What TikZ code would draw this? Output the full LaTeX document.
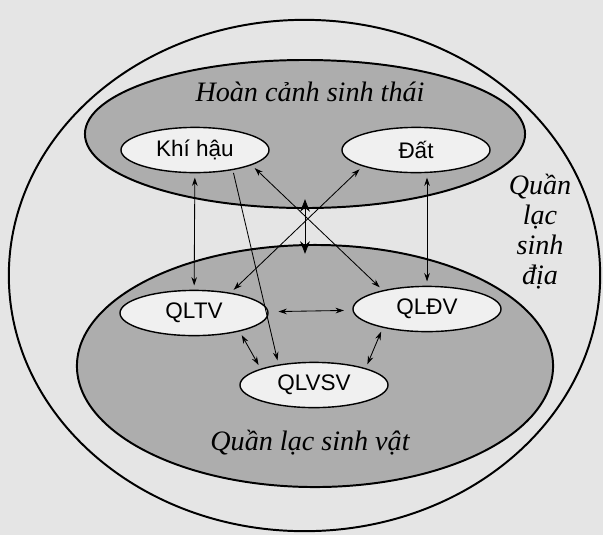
\documentclass[tikz,border=0pt]{standalone}
\usepackage{fontspec}
\setmainfont{Liberation Serif}
\newfontfamily\sansf{Liberation Sans}
\usetikzlibrary{shapes.geometric,arrows.meta}

\begin{document}
\begin{tikzpicture}[x=.025cm,y=-.025cm,
  vung/.style={ellipse,draw,line width=1.4pt,fill=black!32,inner sep=0pt},
  yeuto/.style={ellipse,draw,line width=1pt,fill=black!6,inner sep=0pt,minimum width=3.7cm,minimum height=1.13cm,font=\sansf\fontsize{16}{18}\selectfont},
  chu/.style={font=\itshape\fontsize{20}{21.3}\selectfont,align=center},
  hai/.style={{Stealth[length=6pt,width=4pt]}-{Stealth[length=6pt,width=4pt]},line width=.6pt,shorten <=3pt,shorten >=3pt},
  mot/.style={-{Stealth[length=6pt,width=4pt]},line width=.6pt,shorten <=2pt,shorten >=3pt}]
\fill[black!10] (0,0) rectangle (603,535);
\useasboundingbox (0,0) rectangle (603,535);
% vong ngoai va hai vung
\node[ellipse,draw,line width=1.4pt,inner sep=0pt,minimum width=14.78cm,minimum height=12.78cm] (qlsd) at (304.5,275.5) {};
\node[vung,minimum width=11cm,minimum height=3.7cm] (hcst) at (305,134) {};
\node[vung,minimum width=11.9cm,minimum height=6.05cm] (qlsv) at (315,366) {};
\node[chu] (tHC) at (310,92) {Hoàn cảnh sinh thái};
\node[chu] (tQLSV) at (310,443) {Quần lạc sinh vật};
\node[chu] (tQLSD) at (540,232) {Quần\\lạc\\sinh\\địa};
% cac yeu to
\node[yeuto] (khi) at (195,150) {Khí hậu};
\node[yeuto] (dat) at (416,150) {Đất};
\node[yeuto] (qltv) at (194,313) {QLTV};
\node[yeuto] (qldv) at (427,309) {QLĐV};
\node[yeuto] (qlvsv) at (314,385) {QLVSV};
% cac moi quan he
\draw[hai] (khi) -- (qltv);
\draw[hai] (dat.south -| qldv.north) -- (qldv.north);
\draw[hai] (khi.-15) -- (qldv.157);
\draw[hai] (qltv.29) -- (dat.197);
\draw[{Stealth[length=9pt,width=7pt]}-{Stealth[length=9pt,width=7pt]},line width=.6pt,shorten <=-7pt,shorten >=-7pt] (hcst.south) -- (hcst.south |- qlsv.north);
\draw[mot] (khi.-28) -- (qlvsv.150);
\draw[hai] (qltv.-22) -- (qlvsv.163);
\draw[hai] (qldv.203) -- (qlvsv.18);
\draw[hai,shorten <=7pt,shorten >=6pt] (qltv) -- (qldv);
\end{tikzpicture}
\end{document}
